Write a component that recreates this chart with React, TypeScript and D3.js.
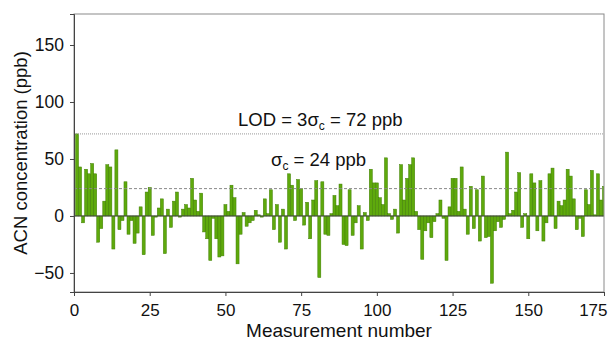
import React, { useEffect, useRef } from "react"
import * as d3 from "d3"

// ACN concentration per measurement (ppb), measurements 1..175
const acnValues: number[] = [
    72, 43, -6, 41, 37, 46, 37, -23, -11, 13, 45, 43, -29, 58, -12, -4, 30, -16, -4, -24,
    -15, 8, -34, 21, 25, -17, -1, 7, 15, -33, 6, -10, 13, 21, -1, 6, 10, 7, 33, 14,
    4, 20, -14, -20, -39, -2, -20, -36, -35, 10, 4, 27, 16, -42, -16, 3, -9, -6, -4, 5,
    1, -1, 15, 2, 23, -12, 10, -23, 6, -29, 37, 27, -4, 32, 24, -8, 12, -20, 14, 31,
    -54, 30, -16, -17, 2, 18, 9, 28, -25, -26, 23, -17, -6, 9, -29, 3, -4, 41, 29, 29,
    16, 10, 51, 2, -3, 6, -15, 45, 14, 33, 45, 51, 4, -12, -38, -13, -6, -19, -5, 2,
    14, -2, -39, 8, 33, 33, 4, 43, 6, -16, 26, -11, 23, -22, 35, -19, -18, -59, -13, -5,
    -10, -3, 56, 2, 5, 21, 38, -10, 2, -20, 37, 29, -13, 31, -22, -6, 37, 42, -11, 13,
    9, 14, 41, 35, 15, -12, -2, -18, 23, 10, 40, 1, 37, 14, 26,
]

const xTicks = [0, 25, 50, 75, 100, 125, 150, 175]
const yTicks = [-50, 0, 50, 100, 150]
const sigmaC = 24
const lod = 72

const FONT = "'Liberation Sans', Arial, sans-serif"

export default function App() {
    const ref = useRef<SVGSVGElement>(null)

    useEffect(() => {
        if (!ref.current) return
        const width = 608
        const height = 345
        const margin = { top: 14, right: 4, bottom: 53, left: 74 }
        const svg = d3.select(ref.current)
        svg.selectAll("*").remove()
        svg.attr("width", width).attr("height", height)

        const x = d3.scaleLinear().domain([0, 175]).range([margin.left, width - margin.right])
        const y = d3.scaleLinear().domain([-66.7, 177.2]).range([height - margin.bottom, margin.top])
        const bw = x(1) - x(0)

        svg.append("defs")
            .append("clipPath")
            .attr("id", "plot-clip")
            .append("rect")
            .attr("x", margin.left)
            .attr("y", margin.top)
            .attr("width", width - margin.left - margin.right)
            .attr("height", height - margin.top - margin.bottom)

        const plot = svg.append("g").attr("clip-path", "url(#plot-clip)")

        // bars
        plot.selectAll(".bar")
            .data(acnValues)
            .join("rect")
            .attr("class", "bar")
            .attr("x", (d, i) => x(i + 1) - bw / 2)
            .attr("y", (d) => y(Math.max(0, d)))
            .attr("width", bw)
            .attr("height", (d) => Math.abs(y(d) - y(0)))
            .attr("fill", "#5ea90c")
            .attr("stroke", "#3f7e00")
            .attr("stroke-width", 0.5)

        // zero line
        plot.append("line")
            .attr("x1", margin.left).attr("x2", width - margin.right)
            .attr("y1", y(0)).attr("y2", y(0))
            .attr("stroke", "#444").attr("stroke-width", 1)

        // LOD and sigma lines
        plot.append("line")
            .attr("x1", margin.left).attr("x2", width - margin.right)
            .attr("y1", y(lod)).attr("y2", y(lod))
            .attr("stroke", "#999").attr("stroke-width", 1).attr("stroke-dasharray", "1,1")
        plot.append("line")
            .attr("x1", margin.left).attr("x2", width - margin.right)
            .attr("y1", y(sigmaC)).attr("y2", y(sigmaC))
            .attr("stroke", "#888").attr("stroke-width", 1).attr("stroke-dasharray", "3,2")

        const lodText = svg.append("text")
            .attr("x", 238).attr("y", y(lod) - 8)
            .attr("font-family", FONT).attr("font-size", 18.5).attr("fill", "#111")
        lodText.append("tspan").text("LOD = 3σ")
        lodText.append("tspan").attr("font-size", 12).attr("dy", 4).text("c")
        lodText.append("tspan").attr("dy", -4).text(" = 72 ppb")

        const sigText = svg.append("text")
            .attr("x", 271).attr("y", y(sigmaC) - 23)
            .attr("font-family", FONT).attr("font-size", 18.5).attr("fill", "#111")
        sigText.append("tspan").text("σ")
        sigText.append("tspan").attr("font-size", 12).attr("dy", 4).text("c")
        sigText.append("tspan").attr("dy", -4).text(" = 24 ppb")

        // frame
        svg.append("rect")
            .attr("x", margin.left).attr("y", margin.top)
            .attr("width", width - margin.left - margin.right)
            .attr("height", height - margin.top - margin.bottom)
            .attr("fill", "none").attr("stroke", "#8a8a8a").attr("stroke-width", 1)

        // x axis
        const xAxis = svg.append("g").attr("transform", `translate(0,${height - margin.bottom})`)
        xAxis.call(d3.axisBottom(x).tickValues(d3.range(0, 176, 5)).tickSize(2).tickFormat(() => ""))
        xAxis.call(d3.axisBottom(x).tickValues(xTicks).tickSize(4).tickPadding(8))
        xAxis.selectAll("path.domain").attr("stroke", "#444")
        xAxis.selectAll("line").attr("stroke", "#444")
        xAxis.selectAll("text").attr("font-family", FONT).attr("font-size", 17).attr("fill", "#111")
        // last label is pulled inside the picture
        xAxis.selectAll<SVGTextElement, number>("text")
            .filter((d) => d === 175)
            .attr("text-anchor", "end")
            .attr("x", 3)

        // y axis
        const yAxis = svg.append("g").attr("transform", `translate(${margin.left},0)`)
        yAxis.call(d3.axisLeft(y).tickValues(d3.range(-60, 171, 10)).tickSize(2).tickFormat(() => ""))
        yAxis.call(d3.axisLeft(y).tickValues(yTicks).tickSize(4).tickPadding(6).tickFormat((d) => String(d).replace("-", "\u2212")))
        yAxis.selectAll("path.domain").attr("stroke", "#444")
        yAxis.selectAll("line").attr("stroke", "#444")
        yAxis.selectAll("text").attr("font-family", FONT).attr("font-size", 17.5).attr("fill", "#111")

        svg.append("text")
            .attr("x", (margin.left + width - margin.right) / 2).attr("y", 337)
            .attr("text-anchor", "middle")
            .attr("font-family", FONT).attr("font-size", 19).attr("fill", "#111")
            .text("Measurement number")

        svg.append("text")
            .attr("transform", `translate(27,153) rotate(-90)`)
            .attr("text-anchor", "middle")
            .attr("font-family", FONT).attr("font-size", 18.5).attr("fill", "#111")
            .text("ACN concentration (ppb)")
    }, [])

    return <svg ref={ref} style={{ position: "absolute", left: 0, top: 0, background: "#fff" }} />
}
